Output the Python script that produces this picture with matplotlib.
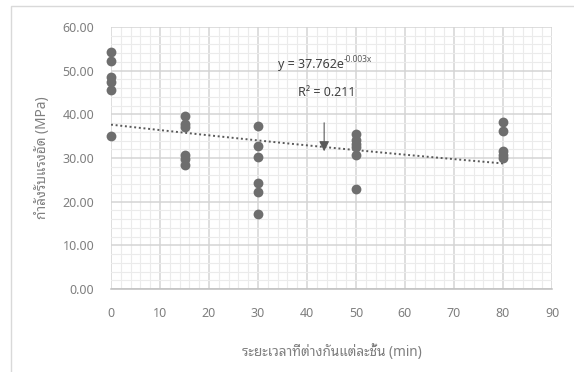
import numpy as np
import matplotlib
matplotlib.use("Agg")
import matplotlib.pyplot as plt
from matplotlib.patches import Rectangle
from matplotlib.ticker import MultipleLocator, FormatStrFormatter

plt.rcParams['font.family'] = ['Noto Sans', 'Noto Sans Thai Looped', 'DejaVu Sans']

# data
x0 = [0, 0, 0, 0, 0, 0]
y0 = [54.2, 52.1, 48.6, 47.3, 45.6, 35.0]
x15 = [15, 15, 15, 15, 15, 15]
y15 = [39.7, 37.8, 37.2, 30.8, 29.7, 28.5]
x30 = [30, 30, 30, 30, 30, 30]
y30 = [37.3, 32.8, 30.3, 24.2, 22.1, 17.2]
x50 = [50, 50, 50, 50, 50, 50]
y50 = [35.5, 34.1, 33.2, 32.6, 30.6, 22.8]
x80 = [80, 80, 80, 80, 80]
y80 = [38.3, 36.1, 31.7, 30.7, 29.9]

xs = np.array(x0 + x15 + x30 + x50 + x80, dtype=float)
ys = np.array(y0 + y15 + y30 + y50 + y80, dtype=float)

eq_base = "y = 37.762e"
eq_sup = "-0.003x"
r2_text = "R² = 0.211"
xlabel = "ระยะเวลาที่ต่างกันแต่ละชั้น (min)"
ylabel = "กำลังรับแรงอัด (MPa)"

fig = plt.figure(figsize=(5.74, 3.72), dpi=100)
ax = fig.add_axes([111/574, 1 - 289/372, 441/574, 262/372])

# outer chart border (only top/left show in the crop)
fig.patches.append(Rectangle((11/574, -0.1), 1.2, 1 - 6/372 + 0.1, transform=fig.transFigure,
                             fill=False, edgecolor='#d9d9d9', lw=1.0, zorder=0))

ax.set_xlim(0, 90)
ax.set_ylim(0, 60)
ax.xaxis.set_major_locator(MultipleLocator(10))
ax.yaxis.set_major_locator(MultipleLocator(10))
ax.xaxis.set_minor_locator(MultipleLocator(2))
ax.yaxis.set_minor_locator(MultipleLocator(2))
ax.grid(which='minor', color='#ebebeb', lw=0.8)
ax.grid(which='major', color='#d4d4d4', lw=1.1)
ax.set_axisbelow(True)
for s in ['top', 'right', 'left']:
    ax.spines[s].set_visible(False)
ax.spines['bottom'].set_color('#bfbfbf')
ax.spines['bottom'].set_linewidth(1.1)
ax.tick_params(which='both', length=0)
ax.tick_params(axis='x', pad=13, labelsize=9, labelcolor='#7f7f7f')
ax.tick_params(axis='y', pad=12, labelsize=9, labelcolor='#7f7f7f')
ax.yaxis.set_major_formatter(FormatStrFormatter('%.2f'))

ax.scatter(xs, ys, s=50, color='#6e6e6e', zorder=3, linewidths=0, clip_on=False)

# exponential trendline
b, ln_a = np.polyfit(xs, np.log(ys), 1)
xt = np.linspace(0, 80, 100)
ax.plot(xt, np.exp(ln_a) * np.exp(b * xt), color='#595959', lw=1.4, ls=(0, (1, 1.4)), zorder=2)

base = ax.text(34.1, 51.3, eq_base, fontsize=9, color='#404040', ha='left', va='center')
ax.annotate(eq_sup, xy=(1.0, 0.95), xycoords=base, fontsize=6, color='#595959',
            ha='left', va='center')
ax.text(38.2, 45.1, r2_text, fontsize=9, color='#404040', ha='left', va='center')
ax.annotate('', xy=(43.5, 30.9), xytext=(43.5, 38.7),
            arrowprops=dict(arrowstyle='-|>,head_width=0.3,head_length=0.6', color='#595959', lw=0.8))

ax.set_xlabel(xlabel, fontsize=9.8, color='#7f7f7f', labelpad=17)
ax.set_ylabel(ylabel, fontsize=9.8, color='#7f7f7f', labelpad=9)

fig.savefig("out.png", dpi=100)
